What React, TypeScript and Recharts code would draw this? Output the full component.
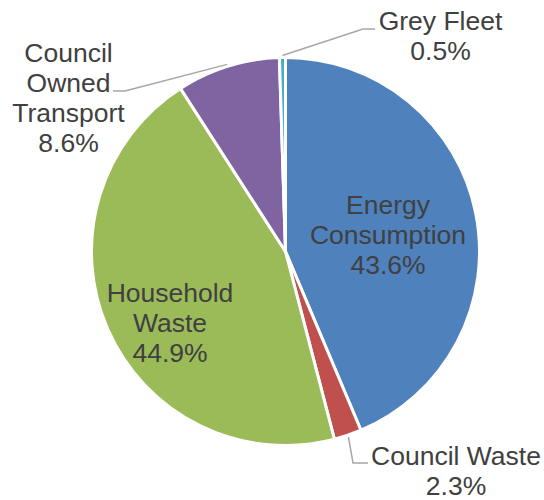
import { PieChart, Pie, Cell } from "recharts";

const categories = ["Energy Consumption", "Council Waste", "Household Waste", "Council Owned Transport", "Grey Fleet"];
const shares = [43.6, 2.3, 44.9, 8.6, 0.5];
const labelText = [
	["Energy", "Consumption"],
	["Council Waste"],
	["Household", "Waste"],
	["Council", "Owned", "Transport"],
	["Grey Fleet"],
];
const sliceColors = ["#4F81BD", "#C0504D", "#9BBB59", "#8064A2", "#4BACC6"];

const data = categories.map((name, i) => ({ name, value: shares[i], lines: labelText[i] }));

// label placement, offsets from the pie centre
const labelLayout: { dx: number; dy: number; elbow?: [number, number]; end?: [number, number] }[] = [
	{ dx: 102.5, dy: -37.5 },
	{ dx: 170.5, dy: 213, elbow: [67.5, 211.5], end: [82.5, 211.5] },
	{ dx: -115.5, dy: 50.5 },
	{ dx: -217, dy: -189.5, elbow: [-160.5, -160.5], end: [-172.5, -160.5] },
	{ dx: 155, dy: -221.5, elbow: [77.5, -222.5], end: [89.5, -222.5] },
];

const RAD = Math.PI / 180;
const LINE_H = 30;

function renderLabel(props: any) {
	const { cx, cy, midAngle, outerRadius, index, payload } = props;
	const layout = labelLayout[index];
	const lines: string[] = [...(payload.lines ?? labelText[index]), `${shares[index].toFixed(1)}%`];
	const x = cx + layout.dx;
	const y0 = cy + layout.dy;
	let leader = null;
	if (layout.elbow && layout.end) {
		const r = outerRadius + 2;
		const sx = cx + r * Math.cos(-midAngle * RAD);
		const sy = cy + r * Math.sin(-midAngle * RAD);
		leader = (
			<polyline
				points={`${sx},${sy} ${cx + layout.elbow[0]},${cy + layout.elbow[1]} ${cx + layout.end[0]},${cy + layout.end[1]}`}
				fill="none"
				stroke="#A6A6A6"
				strokeWidth={1.5}
			/>
		);
	}
	return (
		<g key={`label-${index}`}>
			{leader}
			<text
				x={x}
				y={y0}
				textAnchor="middle"
				fill="#404040"
				fontSize={26.5}
				fontFamily="'Liberation Sans', Arial, sans-serif"
			>
				{lines.map((line, i) => (
					<tspan key={i} x={x} y={y0 + i * LINE_H}>
						{line}
					</tspan>
				))}
			</text>
		</g>
	);
}

export default function App() {
	return (
		<div style={{ position: "absolute", left: 0, top: 0, width: 544, height: 500, background: "#fff" }}>
			<PieChart width={544} height={500} margin={{ top: 0, right: 0, bottom: 0, left: 0 }}>
				<Pie
					data={data}
					dataKey="value"
					cx={285.5}
					cy={251.5}
					outerRadius={194}
					startAngle={90}
					endAngle={-270}
					stroke="#fff"
					strokeWidth={3}
					label={renderLabel}
					labelLine={false}
					isAnimationActive={false}
				>
					{data.map((entry, index) => (
						<Cell key={`cell-${index}`} fill={sliceColors[index]} />
					))}
				</Pie>
			</PieChart>
		</div>
	);
}
